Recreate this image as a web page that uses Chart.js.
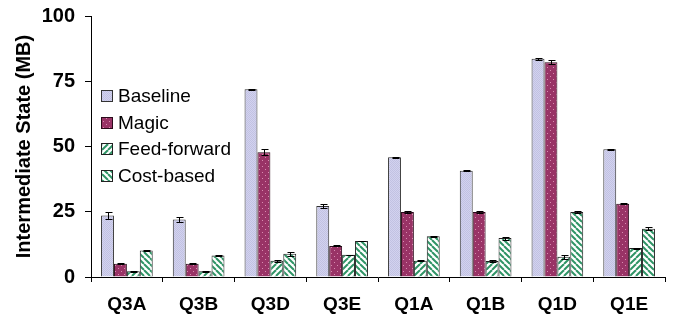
<!DOCTYPE html>
<html>
<head>
<meta charset="utf-8">
<script src="https://cdn.jsdelivr.net/npm/chart.js@4.4.1/dist/chart.umd.min.js"></script>
<style>
html, body { margin: 0; padding: 0; background: #fff; }
.chart-box { width: 677px; height: 323px; position: relative; }
</style>
</head>
<body>
<div class="chart-box">
    <canvas id="grafico-estado"></canvas>
</div>

<script>
// Dados
const categorias = ['Q3A', 'Q3B', 'Q3D', 'Q3E', 'Q1A', 'Q1B', 'Q1D', 'Q1E'];
const baseline    = [23.6, 22.0, 71.9, 27.2, 45.9, 40.7, 83.6, 48.9];
const magic       = [5.1, 5.1, 47.8, 11.9, 24.9, 24.9, 82.3, 28.1];
const feedForward = [2.2, 2.2, 6.2, 8.5, 6.2, 6.1, 7.8, 11.1];
const costBased   = [10.2, 8.2, 8.9, 13.8, 15.6, 14.9, 24.9, 18.5];

// Barras de erro (+/-)
const erroBaseline    = [1.2, 0.9, 0.3, 0.6, 0.2, 0.2, 0.3, 0.3];
const erroMagic       = [0.2, 0.2, 1.2, 0.2, 0.2, 0.2, 0.8, 0.2];
const erroFeedForward = [0.1, 0.1, 0.4, 0.1, 0.2, 0.3, 0.8, 0.2];
const erroCostBased   = [0.1, 0.1, 0.8, 0.1, 0.3, 0.6, 0.4, 0.5];

const ticksY = [0, 25, 50, 75, 100];

const fonte = "Arial, 'Liberation Sans', sans-serif";

// Texturas das barras
function textura(tam, desenha) {
    const c = document.createElement('canvas');
    c.width = tam; c.height = tam;
    const g = c.getContext('2d');
    desenha(g, tam);
    return g.createPattern(c, 'repeat');
}

const ctx = document.getElementById('grafico-estado').getContext('2d');

const texBaseline = textura(2, (g) => {
    g.fillStyle = '#d2d2ef';
    g.fillRect(0, 0, 2, 2);
    g.fillStyle = '#c2c2e2';
    g.fillRect(0, 0, 1, 1);
    g.fillRect(1, 1, 1, 1);
});

const texMagic = textura(6, (g) => {
    g.fillStyle = '#993366';
    g.fillRect(0, 0, 6, 6);
    g.fillStyle = '#d88cb0';
    g.fillRect(1, 1, 1, 1);
    g.fillRect(4, 4, 1, 1);
});

function listras(inverte) {
    return textura(6, (g, t) => {
        g.fillStyle = '#ffffff';
        g.fillRect(0, 0, t, t);
        g.strokeStyle = '#2f9466';
        g.lineWidth = 2;
        for (let k = -1; k <= 1; k++) {
            g.beginPath();
            if (inverte) {
                g.moveTo(k * t, 0);
                g.lineTo(k * t + t, t);
            } else {
                g.moveTo(k * t, t);
                g.lineTo(k * t + t, 0);
            }
            g.stroke();
        }
    });
}
const texFeed = listras(false);
const texCost = listras(true);

// Barras de erro
const pluginErro = {
    id: 'barrasErro',
    afterDatasetsDraw(chart) {
        const g = chart.ctx;
        const y = chart.scales.y;
        g.save();
        g.strokeStyle = '#000';
        g.lineWidth = 1;
        chart.data.datasets.forEach((ds, i) => {
            const meta = chart.getDatasetMeta(i);
            meta.data.forEach((bar, j) => {
                const e = ds.erros[j];
                const v = ds.data[j];
                const x = Math.round(bar.x) + 0.5;
                const y1 = Math.round(y.getPixelForValue(v + e)) + 0.5;
                const y2 = Math.round(y.getPixelForValue(v - e)) + 0.5;
                g.beginPath();
                g.moveTo(x, y1); g.lineTo(x, y2);
                g.moveTo(x - 3, y1); g.lineTo(x + 4, y1);
                g.moveTo(x - 3, y2); g.lineTo(x + 4, y2);
                g.stroke();
            });
        });
        g.restore();
    }
};

// Legenda dentro da area do grafico
const pluginLegenda = {
    id: 'legendaInterna',
    afterDraw(chart) {
        const g = chart.ctx;
        const x0 = 101, y0 = 96, passo = 26.7, lado = 12;
        g.save();
        g.font = '19px ' + fonte;
        g.textBaseline = 'middle';
        chart.data.datasets.forEach((ds, i) => {
            const yc = Math.round(y0 + i * passo);
            g.fillStyle = ds.backgroundColor;
            g.fillRect(x0, yc - lado / 2, lado, lado);
            g.strokeStyle = ds.borderColor;
            g.lineWidth = 1;
            g.strokeRect(x0 + 0.5, yc - lado / 2 + 0.5, lado - 1, lado - 1);
            g.fillStyle = '#000';
            g.fillText(ds.label, 118, yc + 1);
        });
        g.restore();
    }
};

new Chart(ctx, {
    type: 'bar',
    data: {
        labels: categorias,
        datasets: [
            { label: 'Baseline', data: baseline, erros: erroBaseline, backgroundColor: texBaseline, borderColor: '#333', borderWidth: 1 },
            { label: 'Magic', data: magic, erros: erroMagic, backgroundColor: texMagic, borderColor: '#2a0a1a', borderWidth: 1 },
            { label: 'Feed-forward', data: feedForward, erros: erroFeedForward, backgroundColor: texFeed, borderColor: '#222', borderWidth: 1 },
            { label: 'Cost-based', data: costBased, erros: erroCostBased, backgroundColor: texCost, borderColor: '#222', borderWidth: 1 }
        ]
    },
    options: {
        responsive: true,
        maintainAspectRatio: false,
        animation: false,
        layout: { padding: { top: 16, right: 12, left: 0, bottom: 0 } },
        datasets: {
            bar: { barPercentage: 1, categoryPercentage: 0.72 }
        },
        plugins: {
            legend: { display: false },
            tooltip: { enabled: false }
        },
        scales: {
            x: {
                grid: { offset: true, drawOnChartArea: false, tickLength: 5, color: '#000' },
                border: { color: '#000', width: 1 },
                ticks: { color: '#000', padding: 11, font: { family: fonte, size: 19, weight: 'bold' } },
                afterFit: (s) => { s.height = 46; s.paddingLeft = 0; s.paddingRight = 0; }
            },
            y: {
                min: 0,
                max: 100,
                afterBuildTicks: (s) => { s.ticks = ticksY.map(v => ({ value: v })); },
                grid: { drawOnChartArea: false, tickLength: 6, color: '#000' },
                border: { color: '#000', width: 1 },
                ticks: { color: '#000', padding: 10, font: { family: fonte, size: 20, weight: 'bold' } },
                title: {
                    display: true,
                    text: 'Intermediate State (MB)',
                    color: '#000',
                    padding: { top: 12, bottom: 0 },
                    font: { family: fonte, size: 20, weight: 'bold' }
                },
                afterFit: (s) => { s.width = 91; s.paddingTop = 0; s.paddingBottom = 0; }
            }
        }
    },
    plugins: [pluginErro, pluginLegenda]
});
</script>
</body>
</html>
